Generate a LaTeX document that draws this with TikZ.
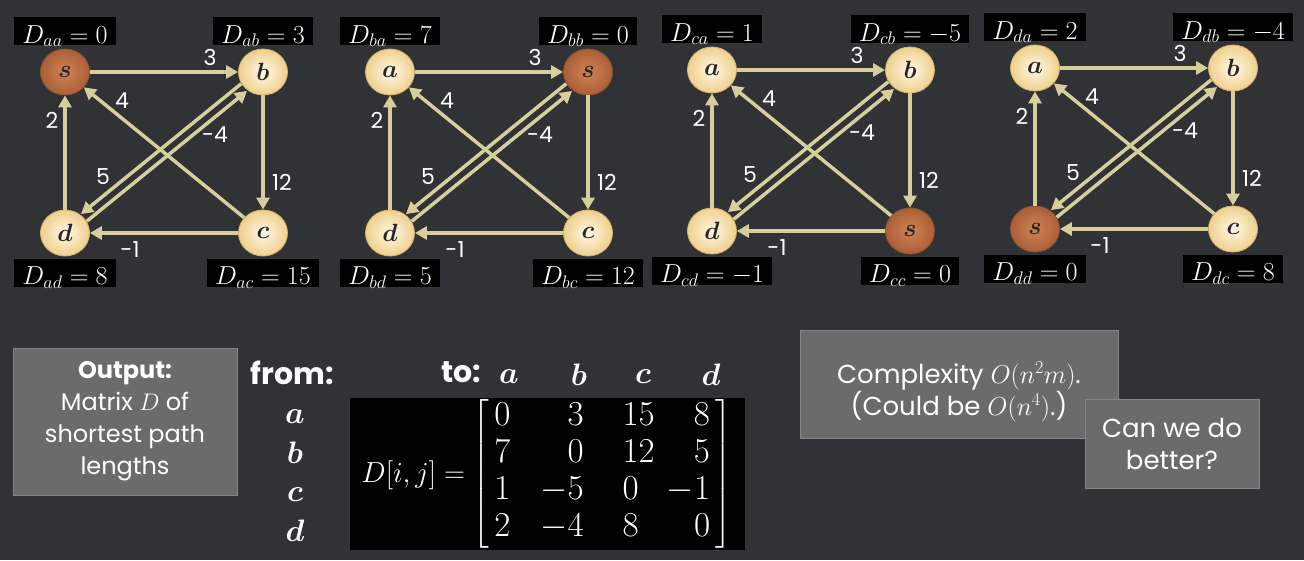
\documentclass[tikz,border=0pt]{standalone}
\usepackage{fix-cm}
\usepackage[no-math]{fontspec}
\setmainfont{Poppins}
\usepackage{amsmath,bm}
\usetikzlibrary{arrows.meta,shapes.geometric,calc}
\definecolor{bgc}{HTML}{303236}
\definecolor{edgec}{HTML}{D6CF9C}
\definecolor{nodein}{HTML}{FFF8E6}
\definecolor{nodeout}{HTML}{EFD08E}
\definecolor{nodebd}{HTML}{D6B46C}
\definecolor{srcin}{HTML}{D08454}
\definecolor{srcout}{HTML}{AC5E36}
\definecolor{srcbd}{HTML}{8A5A30}
\definecolor{boxc}{HTML}{6B6B6B}
\definecolor{boxbd}{HTML}{858585}
\tikzset{
  vtx/.style={ellipse, minimum width=49pt, minimum height=46pt, inner sep=0pt,
    draw=nodebd, line width=0.8pt, inner color=nodein, outer color=nodeout,
    font=\fontsize{25}{25}\selectfont, text=black!85},
  src/.style={vtx, draw=srcbd, inner color=srcin, outer color=srcout},
  edge/.style={draw=edgec, line width=3.5pt, -{Triangle[length=12pt,width=13pt]}},
  wlab/.style={text=white, font=\fontsize{22}{22}\selectfont, inner sep=0pt},
  dlab/.style={fill=black, text=white, font=\fontsize{26}{26}\selectfont,
    inner xsep=8pt, inner ysep=1pt, text height=25pt, text depth=1pt},
  gbox/.style={fill=boxc, draw=boxbd, line width=1pt, text=white, align=center,
    font=\fontsize{24}{32}\selectfont},
  gtext/.style={text=white, align=center, font=\fontsize{26}{32}\selectfont},
  hdr/.style={text=white, font=\fontsize{30}{30}\selectfont\bfseries, inner sep=0pt},
  mlet/.style={text=white, font=\fontsize{31}{31}\selectfont, inner sep=0pt},
}
\newcommand\panelsetup[8]{%
  \def\TLst{#1}\def\TLtx{#2}\def\TRst{#3}\def\TRtx{#4}%
  \def\BLst{#5}\def\BLtx{#6}\def\BRst{#7}\def\BRtx{#8}}
\newcommand\panel[7]{%
  \begin{scope}[shift={(#1,#2)}]
    \node[\TLst] (#7a) at (65,72) {$\bm{\TLtx}$};
    \node[\TRst] (#7b) at (263,72) {$\bm{\TRtx}$};
    \node[\BLst] (#7d) at (65,233) {$\bm{\BLtx}$};
    \node[\BRst] (#7c) at (263,233) {$\bm{\BRtx}$};
    \draw[edge] (#7a) -- (#7b);
    \draw[edge] (#7d) -- (#7a);
    \draw[edge] (#7b) -- (#7c);
    \draw[edge] (#7c) -- (#7d);
    \draw[edge] (#7c) -- (#7a);
    \draw[edge, transform canvas={shift={(-2.9pt,3.6pt)}}] (#7b) -- (#7d);
    \draw[edge, transform canvas={shift={(2.9pt,-3.6pt)}}] (#7d) -- (#7b);
    \node[wlab] (#7w1) at (210,57) {3};
    \node[wlab] (#7w2) at (122,101) {4};
    \node[wlab] (#7w3) at (52,120) {2};
    \node[wlab] (#7w4) at (215,135) {-4};
    \node[wlab] (#7w5) at (103,177) {5};
    \node[wlab] (#7w6) at (282,182) {12};
    \node[wlab] (#7w7) at (130,250) {-1};
    \node[dlab] (#7la) at (65,31) {$#3$};
    \node[dlab] (#7lb) at (263,31) {$#4$};
    \node[dlab] (#7ld) at (65,272.5) {$#5$};
    \node[dlab] (#7lc) at (263,272.5) {$#6$};
  \end{scope}}
\begin{document}
\begin{tikzpicture}[x=1pt,y=-1pt]
  \useasboundingbox (0,0) rectangle (1304,560);
  \fill[bgc] (0,0) rectangle (1304,560);

  \panelsetup{src}{s}{vtx}{b}{vtx}{d}{vtx}{c}
  \panel{0}{0}{D_{aa}=0}{D_{ab}=3}{D_{ad}=8}{D_{ac}=15}{pa}
  \panelsetup{vtx}{a}{src}{s}{vtx}{d}{vtx}{c}
  \panel{325}{0}{D_{ba}=7}{D_{bb}=0}{D_{bd}=5}{D_{bc}=12}{pb}
  \panelsetup{vtx}{a}{vtx}{b}{vtx}{d}{src}{s}
  \panel{647}{-2}{D_{ca}=1}{D_{cb}=-5}{D_{cd}=-1}{D_{cc}=0}{pc}
  \panelsetup{vtx}{a}{vtx}{b}{src}{s}{vtx}{c}
  \panel{970}{-4}{D_{da}=2}{D_{db}=-4}{D_{dd}=0}{D_{dc}=8}{pd}

  % output box
  \node[gbox, minimum width=224pt, minimum height=147pt] (out) at (125,421.5)
    {\textbf{Output:}\\Matrix $D$ of\\shortest path\\lengths};

  % headers
  \node[hdr] (from) at (292,373) {from:};
  \node[hdr] (to) at (461,372) {to:};
  \node[mlet] (ca) at (509,377) {$\bm{a}$};
  \node[mlet] (cb) at (579,375) {$\bm{b}$};
  \node[mlet] (cc) at (643,377) {$\bm{c}$};
  \node[mlet] (cd) at (711,375) {$\bm{d}$};
  \node[mlet] (ra) at (295,417) {$\bm{a}$};
  \node[mlet] (rb) at (295,453) {$\bm{b}$};
  \node[mlet] (rc) at (295,495) {$\bm{c}$};
  \node[mlet] (rd) at (295,531) {$\bm{d}$};

  % matrix
  \node[fill=black, text=white, minimum width=395pt, minimum height=152pt, inner sep=0pt]
    (mat) at (547,474)
    {{\fontsize{29}{30}\selectfont $D[i,j] =$}\hspace{7pt}%
     {\fontsize{35}{37}\selectfont $\left[\begin{array}{@{\,}l@{\hspace{30pt}}r@{\hspace{39pt}}l@{\hspace{12pt}}r@{\,}}
       0 & 3 & 15 & 8\\
       7 & 0 & 12 & 5\\
       1 & -5 & 0 & -1\\
       2 & -4 & 8 & 0
     \end{array}\right]$}};

  % complexity
  \node[gbox, minimum width=318pt, minimum height=108pt] (cxbox) at (959,384) {};
  \node[gtext] (cx) at (959,392) {Complexity $O(n^2m)$.\\(Could be $O(n^4)$.)};
  \node[gbox, gtext, fill=boxc, draw=boxbd, minimum width=174pt, minimum height=89pt] (better)
    at (1172,443.5) {Can we do\\better?};
\end{tikzpicture}
\end{document}
